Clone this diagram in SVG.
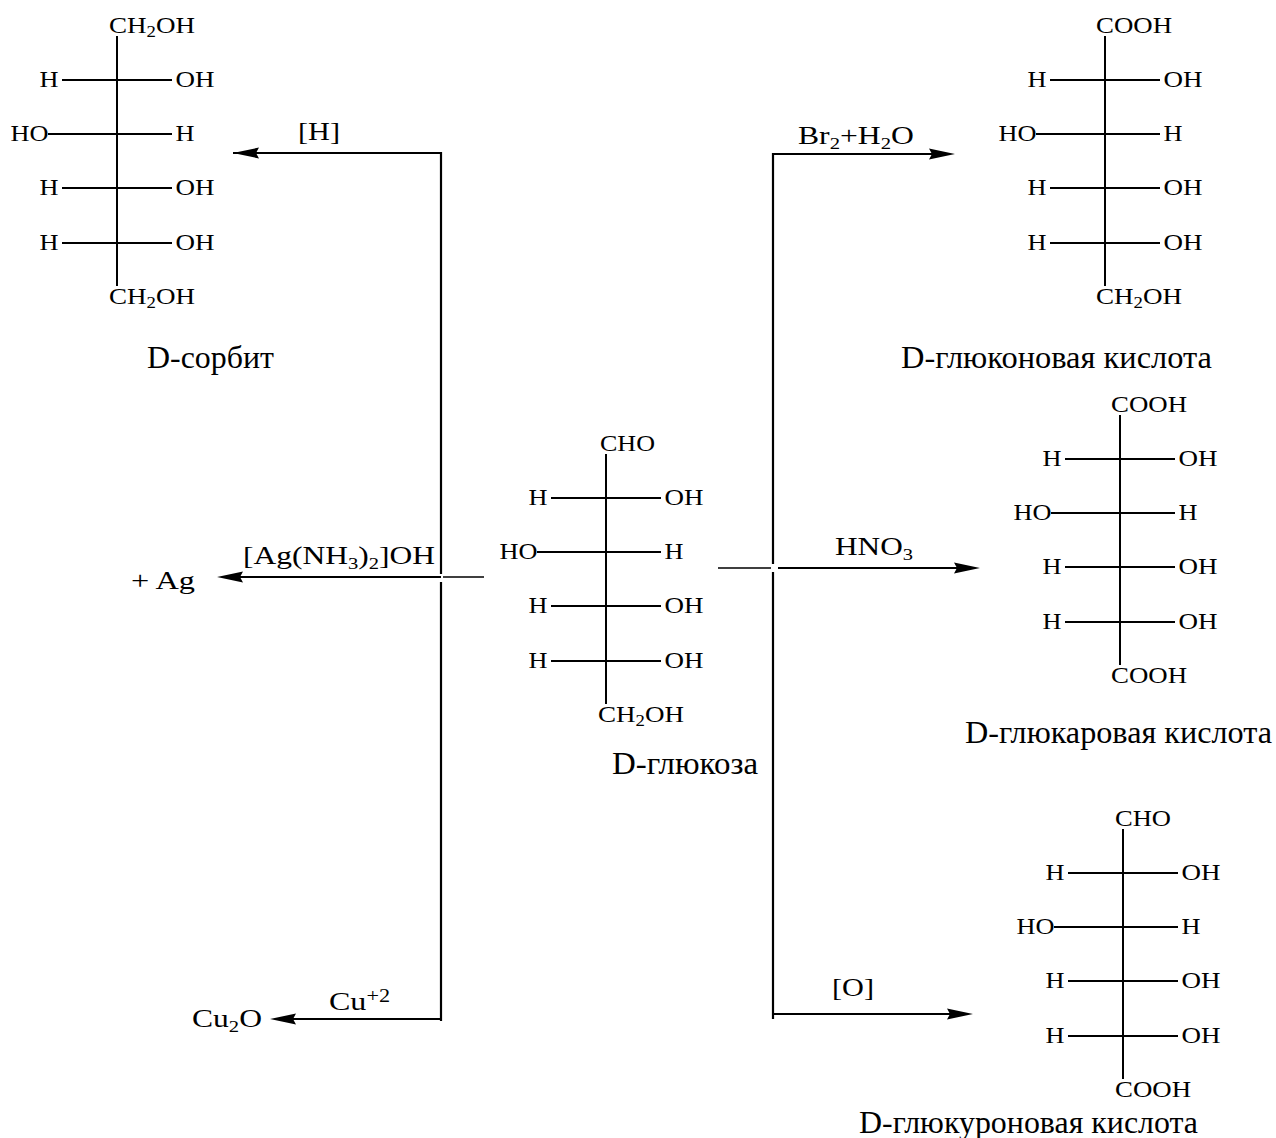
<svg xmlns="http://www.w3.org/2000/svg" width="1276" height="1138" viewBox="0 0 1276 1138">
<style>
text{font-family:"Liberation Serif","Times New Roman",serif;fill:#000}
.f{font-size:23px}
.r{font-size:26px}
.n{font-size:32px}
.b{stroke:#000;stroke-width:2;fill:none}
.c{stroke:#000;stroke-width:2.2;fill:none}
.a{fill:#000;stroke:none}
</style>
<defs>
<g id="bonds">
<path class="b" d="M117 36V286M62 80H172M48 134H172M62 188H172M62 243H172"/>
</g>
</defs>
<rect width="1276" height="1138" fill="#fff"/>
<g id="connectors">
<path class="c" d="M233 153H441V574M441 582V1021M441 1019H285M233 153H255"/>
<path class="c" d="M441 577H240"/>
<path d="M443 577H484M718 568H771" stroke="#000" stroke-width="1.5" fill="none"/>
<path class="c" d="M773 153V564M773 572V1019"/>
<path class="c" d="M773 154H935M778 568H960M773 1014H953"/>
<path class="a" d="M233 153L259 147.5L256 153L259 158.5Z"/>
<path class="a" d="M217 577L243 571.5L240 577L243 582.5Z"/>
<path class="a" d="M270 1019L296 1013.5L293 1019L296 1024.5Z"/>
<path class="a" d="M955 154L929 148.5L932 154L929 159.5Z"/>
<path class="a" d="M980 568L954 562.5L957 568L954 573.5Z"/>
<path class="a" d="M973 1014L947 1008.5L950 1014L947 1019.5Z"/>
</g>
<g id="sorbit">
<use href="#bonds"/>
<g class="f">
<text x="109" y="33" textLength="86" lengthAdjust="spacingAndGlyphs">CH<tspan font-size="16" dy="4">2</tspan><tspan dy="-4">OH</tspan></text>
<text x="39.5" y="87" textLength="19" lengthAdjust="spacingAndGlyphs">H</text><text x="175.5" y="87" textLength="39" lengthAdjust="spacingAndGlyphs">OH</text>
<text x="10.5" y="141" textLength="38" lengthAdjust="spacingAndGlyphs">HO</text><text x="175.5" y="141" textLength="19" lengthAdjust="spacingAndGlyphs">H</text>
<text x="39.5" y="195" textLength="19" lengthAdjust="spacingAndGlyphs">H</text><text x="175.5" y="195" textLength="39" lengthAdjust="spacingAndGlyphs">OH</text>
<text x="39.5" y="250" textLength="19" lengthAdjust="spacingAndGlyphs">H</text><text x="175.5" y="250" textLength="39" lengthAdjust="spacingAndGlyphs">OH</text>
<text x="109" y="304" textLength="86" lengthAdjust="spacingAndGlyphs">CH<tspan font-size="16" dy="4">2</tspan><tspan dy="-4">OH</tspan></text>
</g>
<text class="n" x="147" y="368" textLength="127" lengthAdjust="spacingAndGlyphs">D-сорбит</text>
</g>
<g id="gluconic" transform="translate(988 0)">
<use href="#bonds"/>
<g class="f">
<text x="108" y="33" textLength="76" lengthAdjust="spacingAndGlyphs">COOH</text>
<text x="39.5" y="87" textLength="19" lengthAdjust="spacingAndGlyphs">H</text><text x="175.5" y="87" textLength="39" lengthAdjust="spacingAndGlyphs">OH</text>
<text x="10.5" y="141" textLength="38" lengthAdjust="spacingAndGlyphs">HO</text><text x="175.5" y="141" textLength="19" lengthAdjust="spacingAndGlyphs">H</text>
<text x="39.5" y="195" textLength="19" lengthAdjust="spacingAndGlyphs">H</text><text x="175.5" y="195" textLength="39" lengthAdjust="spacingAndGlyphs">OH</text>
<text x="39.5" y="250" textLength="19" lengthAdjust="spacingAndGlyphs">H</text><text x="175.5" y="250" textLength="39" lengthAdjust="spacingAndGlyphs">OH</text>
<text x="108" y="304" textLength="86" lengthAdjust="spacingAndGlyphs">CH<tspan font-size="16" dy="4">2</tspan><tspan dy="-4">OH</tspan></text>
</g>
<text class="n" x="-87" y="368" textLength="311" lengthAdjust="spacingAndGlyphs">D-глюконовая кислота</text>
</g>
<g id="glucaric" transform="translate(1003 379)">
<use href="#bonds"/>
<g class="f">
<text x="108" y="33" textLength="76" lengthAdjust="spacingAndGlyphs">COOH</text>
<text x="39.5" y="87" textLength="19" lengthAdjust="spacingAndGlyphs">H</text><text x="175.5" y="87" textLength="39" lengthAdjust="spacingAndGlyphs">OH</text>
<text x="10.5" y="141" textLength="38" lengthAdjust="spacingAndGlyphs">HO</text><text x="175.5" y="141" textLength="19" lengthAdjust="spacingAndGlyphs">H</text>
<text x="39.5" y="195" textLength="19" lengthAdjust="spacingAndGlyphs">H</text><text x="175.5" y="195" textLength="39" lengthAdjust="spacingAndGlyphs">OH</text>
<text x="39.5" y="250" textLength="19" lengthAdjust="spacingAndGlyphs">H</text><text x="175.5" y="250" textLength="39" lengthAdjust="spacingAndGlyphs">OH</text>
<text x="108" y="304" textLength="76" lengthAdjust="spacingAndGlyphs">COOH</text>
</g>
<text class="n" x="-38" y="364" textLength="307" lengthAdjust="spacingAndGlyphs">D-глюкаровая кислота</text>
</g>
<g id="glucuronic" transform="translate(1006 793)">
<use href="#bonds"/>
<g class="f">
<text x="109" y="33" textLength="56" lengthAdjust="spacingAndGlyphs">CHO</text>
<text x="39.5" y="87" textLength="19" lengthAdjust="spacingAndGlyphs">H</text><text x="175.5" y="87" textLength="39" lengthAdjust="spacingAndGlyphs">OH</text>
<text x="10.5" y="141" textLength="38" lengthAdjust="spacingAndGlyphs">HO</text><text x="175.5" y="141" textLength="19" lengthAdjust="spacingAndGlyphs">H</text>
<text x="39.5" y="195" textLength="19" lengthAdjust="spacingAndGlyphs">H</text><text x="175.5" y="195" textLength="39" lengthAdjust="spacingAndGlyphs">OH</text>
<text x="39.5" y="250" textLength="19" lengthAdjust="spacingAndGlyphs">H</text><text x="175.5" y="250" textLength="39" lengthAdjust="spacingAndGlyphs">OH</text>
<text x="109" y="304" textLength="76" lengthAdjust="spacingAndGlyphs">COOH</text>
</g>
<text class="n" x="-147" y="340" textLength="339" lengthAdjust="spacingAndGlyphs">D-глюкуроновая кислота</text>
</g>
<g id="glucose" transform="translate(489 418)">
<use href="#bonds"/>
<g class="f">
<text x="111" y="33" textLength="55" lengthAdjust="spacingAndGlyphs">CHO</text>
<text x="39.5" y="87" textLength="19" lengthAdjust="spacingAndGlyphs">H</text><text x="175.5" y="87" textLength="39" lengthAdjust="spacingAndGlyphs">OH</text>
<text x="10.5" y="141" textLength="38" lengthAdjust="spacingAndGlyphs">HO</text><text x="175.5" y="141" textLength="19" lengthAdjust="spacingAndGlyphs">H</text>
<text x="39.5" y="195" textLength="19" lengthAdjust="spacingAndGlyphs">H</text><text x="175.5" y="195" textLength="39" lengthAdjust="spacingAndGlyphs">OH</text>
<text x="39.5" y="250" textLength="19" lengthAdjust="spacingAndGlyphs">H</text><text x="175.5" y="250" textLength="39" lengthAdjust="spacingAndGlyphs">OH</text>
<text x="109" y="304" textLength="86" lengthAdjust="spacingAndGlyphs">CH<tspan font-size="16" dy="4">2</tspan><tspan dy="-4">OH</tspan></text>
</g>
<text class="n" x="123" y="356" textLength="146" lengthAdjust="spacingAndGlyphs">D-глюкоза</text>
</g>
<g id="label-h" class="r"><text x="298" y="140" textLength="42" lengthAdjust="spacingAndGlyphs">[H]</text></g>
<g id="label-ag" class="r"><text x="243" y="564" textLength="192" lengthAdjust="spacingAndGlyphs">[Ag(NH<tspan font-size="17" dy="5">3</tspan><tspan dy="-5">)</tspan><tspan font-size="17" dy="5">2</tspan><tspan dy="-5">]OH</tspan></text></g>
<g id="product-ag" class="r"><text x="131" y="589" textLength="64" lengthAdjust="spacingAndGlyphs">+ Ag</text></g>
<g id="label-cu" class="r"><text x="329" y="1010" textLength="61" lengthAdjust="spacingAndGlyphs">Cu<tspan font-size="18" dy="-8">+2</tspan></text></g>
<g id="product-cu" class="r"><text x="192" y="1027" textLength="70" lengthAdjust="spacingAndGlyphs">Cu<tspan font-size="17" dy="5">2</tspan><tspan dy="-5">O</tspan></text></g>
<g id="label-br" class="r"><text x="798" y="144" textLength="116" lengthAdjust="spacingAndGlyphs">Br<tspan font-size="17" dy="5">2</tspan><tspan dy="-5">+H</tspan><tspan font-size="17" dy="5">2</tspan><tspan dy="-5">O</tspan></text></g>
<g id="label-hno3" class="r"><text x="835" y="555" textLength="78" lengthAdjust="spacingAndGlyphs">HNO<tspan font-size="17" dy="5">3</tspan></text></g>
<g id="label-o" class="r"><text x="832" y="996" textLength="42" lengthAdjust="spacingAndGlyphs">[O]</text></g>
</svg>
